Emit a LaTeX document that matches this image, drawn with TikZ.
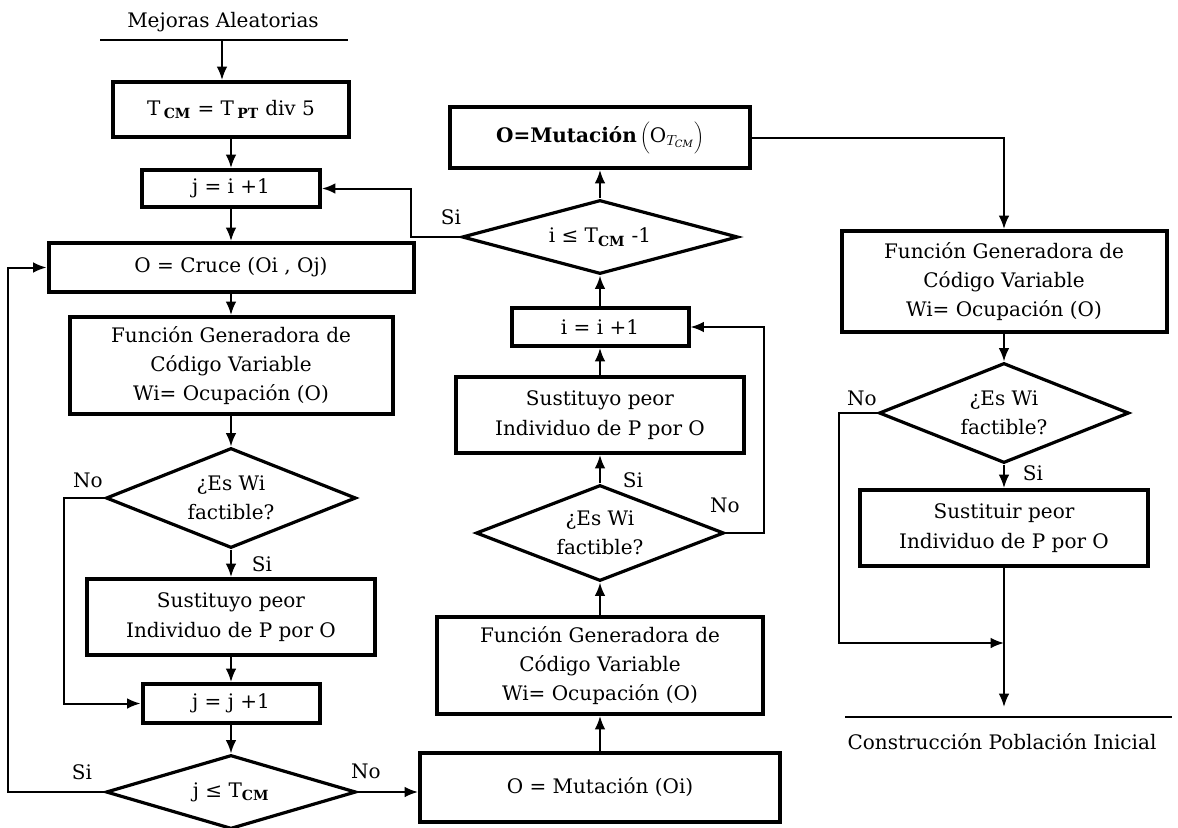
\documentclass[tikz,border=0pt]{standalone}
\usepackage{fontspec}
\setmainfont{DejaVu Serif}
\usetikzlibrary{shapes.geometric,arrows.meta}
\begin{document}
\begin{tikzpicture}[x=0.75pt,y=-0.75pt,
  font=\fontsize{15}{22}\selectfont,
  wh/.style 2 args={minimum width=#1*0.75pt,minimum height=#2*0.75pt},
  box/.style={draw,line width=3pt,inner sep=0pt,align=center},
  dec/.style={draw,diamond,line width=2.4pt,inner sep=0pt,align=center},
  lbl/.style={inner sep=0pt},
  conn/.style={line width=1.5pt},
  arr/.style={conn,-{Latex[length=10pt,width=8pt]}}]
\useasboundingbox (0,0) rectangle (1178,828);

% entry and exit captions
\node[lbl] (ttl) at (223,22) {Mejoras Aleatorias};
\draw[conn] (100,40) -- (348,40);
\coordinate (mtop) at (222,40);
\node[lbl] (fin) at (1002,742) {Construcción Población Inicial};
\draw[conn] (845,717) -- (1172,717);

% left column: crossover loop
\node[box,wh={236}{55}] (b1) at (231,109.5) {T\,\textsubscript{\textbf{CM}} = T\,\textsubscript{\textbf{PT}} div 5};
\node[box,wh={178}{37}] (b2) at (231,188.5) {j = i +1};
\node[box,wh={365}{49}] (b3) at (231,267.5) {O = Cruce (Oi , Oj)};
\node[box,wh={323}{97}] (b4) at (231,365.5) {Función Generadora de\\Código Variable\\Wi= Ocupación (O)};
\node[dec,wh={250}{100},aspect=2.5] (d1) at (231,498) {¿Es Wi\\factible?};
\node[box,wh={288}{76}] (b5) at (231,617) {Sustituyo peor\\Individuo de P por O};
\node[box,wh={177}{39}] (b6) at (231,703.5) {j = j +1};
\node[dec,wh={250}{74},aspect=3.4] (d2) at (231,792) {j ≤ T\textsubscript{\textbf{CM}}};

% middle column: mutation loop
\node[box,wh={360}{69}] (b7) at (600,787.5) {O = Mutación (Oi)};
\node[box,wh={326}{97}] (b8) at (600,665.5) {Función Generadora de\\Código Variable\\Wi= Ocupación (O)};
\node[dec,wh={248}{96},aspect=2.6] (d3) at (600,533) {¿Es Wi\\factible?};
\node[box,wh={288}{76}] (b9) at (600,415) {Sustituyo peor\\Individuo de P por O};
\node[box,wh={177}{38}] (b10) at (600,327) {i = i +1};
\node[dec,wh={276}{74},aspect=3.7] (d4) at (600,237) {i ≤ T\textsubscript{\textbf{CM}} -1};
\node[box,wh={300}{61}] (b11) at (600,137.5) {\textbf{O=Mutación}\,$\biggl(\mathrm{O}_{T_{\mathit{CM}}}\biggr)$};

% right column: final mutation
\node[box,wh={325}{101}] (b12) at (1004,281.5) {Función Generadora de\\Código Variable\\Wi= Ocupación (O)};
\node[dec,wh={250}{100},aspect=2.5] (d5) at (1004,413) {¿Es Wi\\factible?};
\node[box,wh={288}{76}] (b13) at (1004,528) {Sustituir peor\\Individuo de P por O};
\coordinate (join) at (1004,643);
\coordinate (endp) at (1004,707);

% branch labels
\node[lbl] (l1) at (88,480) {No};
\node[lbl] (l2) at (262,564) {Si};
\node[lbl] (l3) at (82,772) {Si};
\node[lbl] (l4) at (366,771) {No};
\node[lbl] (l5) at (633,480) {Si};
\node[lbl] (l6) at (725,505) {No};
\node[lbl] (l7) at (451,217) {Si};
\node[lbl] (l8) at (862,398) {No};
\node[lbl] (l9) at (1033,473) {Si};

% connectors, left column
\draw[arr] (mtop) -- (mtop |- b1.north);
\draw[arr] (b1) -- (b2);
\draw[arr] (b2) -- (b3);
\draw[arr] (b3) -- (b4);
\draw[arr] (b4) -- (d1);
\draw[arr] (d1) -- (b5);
\draw[arr] (b5) -- (b6);
\draw[arr] (b6) -- (d2);
\draw[arr] (d1.west) -- ++(-40,0) |- (b6.west);
\draw[arr] (d2.west) -- ++(-96,0) |- (b3.west);
\draw[arr] (d2.east) -- (d2.east -| b7.west);

% connectors, middle column
\draw[arr] (b7) -- (b8);
\draw[arr] (b8) -- (d3);
\draw[arr] (d3) -- (b9);
\draw[arr] (b9) -- (b10);
\draw[arr] (b10) -- (d4);
\draw[arr] (d4) -- (b11);
\draw[arr] (d3.east) -- ++(38,0) |- (b10.east);
\draw[arr] (d4.west) -- ++(-49,0) |- (b2.east);

% connectors, right column
\draw[arr] (b11.east) -| (b12.north);
\draw[arr] (b12) -- (d5);
\draw[arr] (d5) -- (b13);
\draw[arr] (d5.west) -- ++(-38,0) |- (join);
\draw[arr] (b13.south) -- (endp);
\end{tikzpicture}
\end{document}
